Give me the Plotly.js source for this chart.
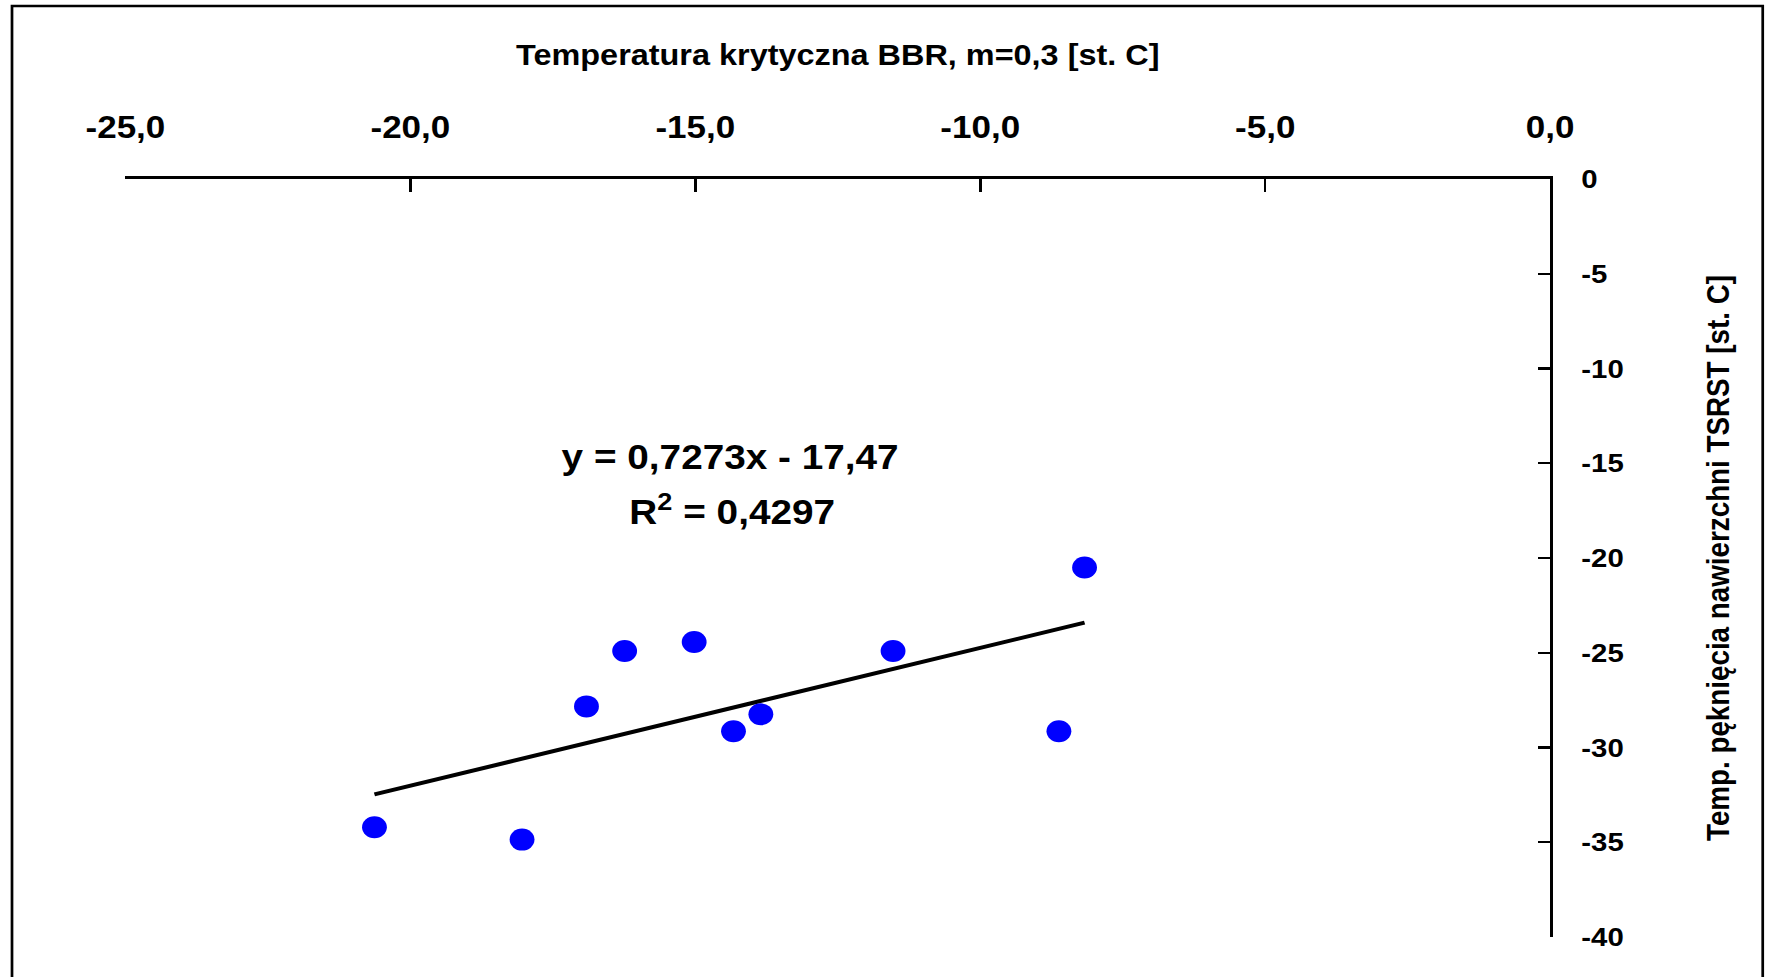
<!DOCTYPE html>
<html>
<head>
<meta charset="utf-8">
<script src="https://cdn.plot.ly/plotly-3.0.1.min.js"></script>
<style>
  html, body { margin: 0; padding: 0; background: #fff; overflow: hidden; }
  /* The chart is laid out on a narrower canvas and widened to the full page */
  #chart {
    width: 1571px;
    height: 977px;
    transform: scaleX(1.12985);
    transform-origin: 0 0;
  }
</style>
</head>
<body>
<div id="chart"></div>
<script>
// Critical temperature from BBR (m = 0.3) vs TSRST cracking temperature, both in deg C
const bbrTemp = [-20.63, -18.04, -16.91, -16.24, -15.02, -14.33, -13.85, -11.53, -8.62, -8.17];
const tsrstTemp = [-34.21, -34.86, -27.83, -24.91, -24.43, -29.14, -28.25, -24.91, -29.14, -20.50];

// Linear trend stated on the chart
const trendSlope = 0.7273;
const trendIntercept = -17.47;
const trendEquation = 'y = 0,7273x - 17,47';
const trendR2 = 'R<sup>2</sup> = 0,4297';

// Axis ticks and their labels
const xTickVals = [-25, -20, -15, -10, -5, 0];
const xTickText = ['-25,0', '-20,0', '-15,0', '-10,0', '-5,0', '0,0'];
const yTickVals = [0, -5, -10, -15, -20, -25, -30, -35, -40];
const yTickText = ['0', '-5', '-10', '-15', '-20', '-25', '-30', '-35', '-40'];

const xTitle = 'Temperatura krytyczna BBR, m=0,3 [st. C]';
const yTitle = 'Temp. pęknięcia nawierzchni TSRST [st. C]';

// Trend line spans the observed BBR range
const trendX = [Math.min(...bbrTemp), Math.max(...bbrTemp)];
const trendY = trendX.map(x => trendSlope * x + trendIntercept);

const FONT = 'Liberation Sans, Arial, sans-serif';

const traces = [
  {
    x: trendX, y: trendY,
    type: 'scatter', mode: 'lines',
    line: { color: '#000000', width: 4 },
    hoverinfo: 'skip', showlegend: false
  },
  {
    x: bbrTemp, y: tsrstTemp,
    type: 'scatter', mode: 'markers',
    marker: { color: '#0000FF', size: 22, line: { width: 0 } },
    showlegend: false
  }
];

const layout = {
  width: 1571,
  height: 977,
  margin: { l: 111, r: 199, t: 179, b: 40, pad: 0 },
  paper_bgcolor: '#ffffff',
  plot_bgcolor: '#ffffff',
  showlegend: false,
  xaxis: {
    range: [-25, 0],
    side: 'top',
    tickmode: 'array',
    tickvals: xTickVals,
    ticktext: xTickText,
    ticks: 'inside',
    ticklen: 13,
    tickwidth: 2.2,
    tickcolor: '#000',
    showline: true,
    linecolor: '#000',
    linewidth: 2.6,
    showgrid: false,
    zeroline: false,
    ticklabelstandoff: 26,
    tickfont: { family: FONT, size: 31, color: '#000', weight: 700 },
    title: {
      text: xTitle,
      standoff: 36,
      font: { family: FONT, size: 28.7, color: '#000', weight: 700 }
    },
    fixedrange: true
  },
  yaxis: {
    range: [-40, 0],
    side: 'right',
    tickmode: 'array',
    tickvals: yTickVals,
    ticktext: yTickText,
    ticks: 'inside',
    ticklen: 11,
    tickwidth: 2.2,
    tickcolor: '#000',
    showline: true,
    linecolor: '#000',
    linewidth: 2.4,
    showgrid: false,
    zeroline: false,
    ticklabelstandoff: 20,
    tickfont: { family: FONT, size: 26, color: '#000', weight: 700 },
    title: {
      text: yTitle,
      standoff: 75,
      font: { family: FONT, size: 27.8, color: '#000', weight: 700 }
    },
    fixedrange: true
  },
  annotations: [
    {
      xref: 'paper', yref: 'paper', x: 0.4243, y: 0.6332,
      xanchor: 'center', yanchor: 'middle', showarrow: false,
      text: trendEquation,
      font: { family: FONT, size: 34.3, color: '#000', weight: 700 }
    },
    {
      xref: 'paper', yref: 'paper', x: 0.4255, y: 0.5646,
      xanchor: 'center', yanchor: 'middle', showarrow: false,
      text: trendR2,
      font: { family: FONT, size: 34.3, color: '#000', weight: 700 }
    }
  ],
  shapes: [
    // Chart frame (open at the bottom edge of the page)
    {
      type: 'rect', xref: 'paper', yref: 'paper',
      x0: -0.0796, x1: 1.1492, y0: -0.12, y1: 1.2282,
      line: { color: '#000', width: 2.4 },
      fillcolor: 'rgba(0,0,0,0)', layer: 'above'
    }
  ]
};

Plotly.newPlot('chart', traces, layout, { displayModeBar: false, responsive: false, staticPlot: true });
</script>
</body>
</html>
